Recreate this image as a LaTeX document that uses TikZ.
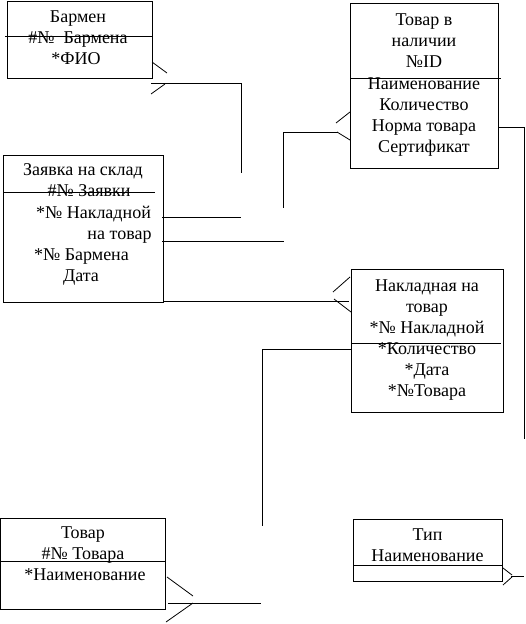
\documentclass[tikz,border=0pt]{standalone}
\usepackage{fontspec}
\setmainfont{Liberation Serif}
\begin{document}
\begin{tikzpicture}[x=1pt,y=-1pt,line width=1pt,
  box/.style={draw,rectangle,inner sep=0pt,outer sep=0pt,anchor=north west},
  txt/.style={anchor=base,inner sep=0pt,font=\fontsize{18}{21}\selectfont},
  link/.style={draw,line cap=rect},
  foot/.style={draw,line width=0.8pt}]
\useasboundingbox (0,0) rectangle (526,624);
% boxes
\node[box,minimum width=145pt,minimum height=77pt] (barmen) at (7,1) {};
\node[box,minimum width=160pt,minimum height=147pt] (zayavka) at (3,155) {};
\node[box,minimum width=148pt,minimum height=165pt] (nalichie) at (350,3) {};
\node[box,minimum width=152pt,minimum height=143pt] (nakl) at (351,269) {};
\node[box,minimum width=164.5pt,minimum height=91pt] (tovar) at (0.5,518) {};
\node[box,minimum width=149pt,minimum height=62pt] (tip) at (353,519) {};
% dividers
\draw (5,36) -- (152,36);
\draw (3,192) -- (155,192);
\draw (350,78) -- (501,78);
\draw (351,343) -- (501,343);
\draw (0.5,561) -- (165,561);
\draw (353,565) -- (503,565);
% texts: Бармен
\node[txt] (b-t1) at (78,22) {Бармен};
\node[txt] (b-t2) at (78,43) {\#№\ \ Бармена};
\node[txt] (b-t3) at (76,64) {*ФИО};
% Заявка на склад
\node[txt] (z-t1) at (83,175) {Заявка на склад};
\node[txt] (z-t2) at (89,196) {\#№ Заявки};
\node[txt] (z-t3) at (93.5,218) {*№ Накладной};
\node[txt,anchor=base east] (z-t4) at (152,239) {на товар};
\node[txt] (z-t5) at (81.5,260) {*№ Бармена};
\node[txt] (z-t6) at (81,281) {Дата};
% Товар в наличии
\node[txt] (n-t1) at (424,25) {Товар в};
\node[txt] (n-t2) at (424,46) {наличии};
\node[txt] (n-t3) at (424,67) {№ID};
\node[txt] (n-t4) at (424,89) {Наименование};
\node[txt] (n-t5) at (424,110) {Количество};
\node[txt] (n-t6) at (424,131) {Норма товара};
\node[txt] (n-t7) at (424,152) {Сертификат};
% Накладная на товар
\node[txt] (k-t1) at (427,291) {Накладная на};
\node[txt] (k-t2) at (427,312) {товар};
\node[txt] (k-t3) at (427,333) {*№ Накладной};
\node[txt] (k-t4) at (427,354) {*Количество};
\node[txt] (k-t5) at (427,375) {*Дата};
\node[txt] (k-t6) at (427,396) {*№Товара};
% Товар
\node[txt] (t-t1) at (83,538) {Товар};
\node[txt] (t-t2) at (83,559) {\#№ Товара};
\node[txt] (t-t3) at (85,580) {*Наименование};
% Тип
\node[txt] (p-t1) at (427.5,540) {Тип};
\node[txt] (p-t2) at (427.5,561) {Наименование};
% connector endpoints
\coordinate (c1a) at (151,83);  \coordinate (c1b) at (241,83);  \coordinate (c1c) at (241,172);
\coordinate (c2a) at (162,217); \coordinate (c2b) at (240,217);
\coordinate (c3a) at (162,241); \coordinate (c3b) at (283,241);
\coordinate (c4a) at (283,207); \coordinate (c4b) at (283,132); \coordinate (c4c) at (337,132);
\coordinate (c5a) at (163,301); \coordinate (c5b) at (348,301);
\coordinate (c6a) at (498,127); \coordinate (c6b) at (524,127); \coordinate (c6c) at (524,438);
\coordinate (c7a) at (351,349); \coordinate (c7b) at (262,349); \coordinate (c7c) at (262,525);
\coordinate (c8a) at (168,603); \coordinate (c8b) at (260,603);
\coordinate (c9a) at (511,576); \coordinate (c9b) at (523,576);
% connectors
\draw[link] (c1a) -- (c1b) -- (c1c);
\draw[link] (c2a) -- (c2b);
\draw[link] (c3a) -- (c3b);
\draw[link] (c4a) -- (c4b) -- (c4c);
\draw[link] (c5a) -- (c5b);
\draw[link] (c6a) -- (c6b) -- (c6c);
\draw[link] (c7a) -- (c7b) -- (c7c);
\draw[link] (c8a) -- (c8b);
\draw[link] (c9a) -- (c9b);
% crow's feet
\draw[foot] (152,62) -- (167,73);
\draw[foot] (151,94) -- (165,84);
\draw[foot] (336,123) -- (350,112);
\draw[foot] (337,132) -- (350,140);
\draw[foot] (333,292) -- (350,277);
\draw[foot] (334,299) -- (351,312);
\draw[foot] (167,577) -- (193,596);
\draw[foot] (166,622) -- (193,603);
\draw[foot] (503,568) -- (512,575);
\draw[foot] (503,585) -- (512,577);
\end{tikzpicture}
\end{document}
